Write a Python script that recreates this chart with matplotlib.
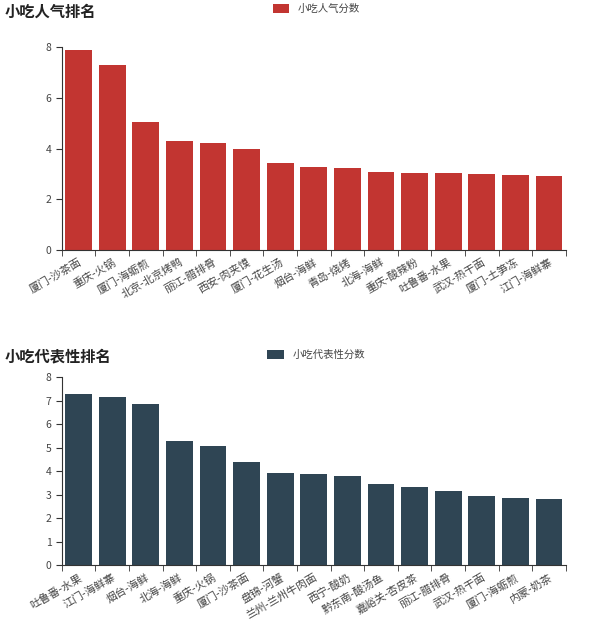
import matplotlib.pyplot as plt
import numpy as np
from matplotlib.ticker import FixedLocator

plt.rcParams['font.family'] = ['Noto Sans CJK SC', 'DejaVu Sans']

renqi_labels = ['厦门-沙茶面', '重庆-火锅', '厦门-海蛎煎', '北京-北京烤鸭', '丽江-腊排骨',
                '西安-肉夹馍', '厦门-花生汤', '烟台-海鲜', '青岛-烧烤', '北海-海鲜',
                '重庆-酸辣粉', '吐鲁番-水果', '武汉-热干面', '厦门-土笋冻', '江门-海鲜寨']
renqi_values = [7.87, 7.28, 5.04, 4.29, 4.22, 3.98, 3.43, 3.27, 3.23, 3.07,
                3.04, 3.03, 3.0, 2.95, 2.91]

daibiao_labels = ['吐鲁番-水果', '江门-海鲜寨', '烟台-海鲜', '北海-海鲜', '重庆-火锅',
                  '厦门-沙茶面', '盘锦-河蟹', '兰州-兰州牛肉面', '西宁-酸奶', '黔东南-酸汤鱼',
                  '嘉峪关-杏皮茶', '丽江-腊排骨', '武汉-热干面', '厦门-海蛎煎', '内蒙-奶茶']
daibiao_values = [7.28, 7.15, 6.85, 5.28, 5.06, 4.38, 3.91, 3.87, 3.79, 3.45,
                  3.32, 3.15, 2.94, 2.85, 2.81]

DPI = 100


def narisi(ax, labels, values, color, yticks, legend_name, legend_y):
    x = np.arange(len(labels))
    ax.bar(x, values, width=0.8, color=color, label=legend_name)
    ax.set_xlim(-0.5, len(labels) - 0.5)
    ax.set_ylim(0, 8)
    ax.set_yticks(yticks)
    ax.set_xticks(x)
    ax.set_xticklabels(labels, rotation=30, ha='right', rotation_mode='anchor',
                       fontsize=7.8, color='#444444')
    ax.xaxis.set_minor_locator(FixedLocator(np.arange(len(labels) + 1) - 0.5))
    ax.tick_params(axis='x', which='major', length=0, pad=5)
    ax.tick_params(axis='x', which='minor', length=4, color='#333333')
    ax.tick_params(axis='y', length=4, labelsize=7.5, color='#333333', labelcolor='#444444')
    for s in ['top', 'right']:
        ax.spines[s].set_visible(False)
    for s in ['left', 'bottom']:
        ax.spines[s].set_color('#333333')
        ax.spines[s].set_linewidth(0.8)
    ax.legend(loc='center', bbox_to_anchor=(0.527, legend_y), bbox_transform=ax.figure.transFigure,
              frameon=False, fontsize=7.5, handlelength=1.6, handleheight=1.0,
              labelcolor='#444444')


fig = plt.figure(figsize=(6, 6.28), dpi=DPI)
ax1 = fig.add_axes([0.103, 0.602, 0.84, 0.323])
ax2 = fig.add_axes([0.103, 0.100, 0.84, 0.299])

narisi(ax1, renqi_labels, renqi_values, '#c23531', [0, 2, 4, 6, 8], '小吃人气分数', 0.986)
narisi(ax2, daibiao_labels, daibiao_values, '#2f4554', list(range(9)), '小吃代表性分数', 0.435)

fig.text(0.008, 0.981, '小吃人气排名', fontsize=11, fontweight='bold', va='center', color='#222222')
fig.text(0.008, 0.432, '小吃代表性排名', fontsize=11, fontweight='bold', va='center', color='#222222')

plt.savefig('out.png', dpi=DPI)
